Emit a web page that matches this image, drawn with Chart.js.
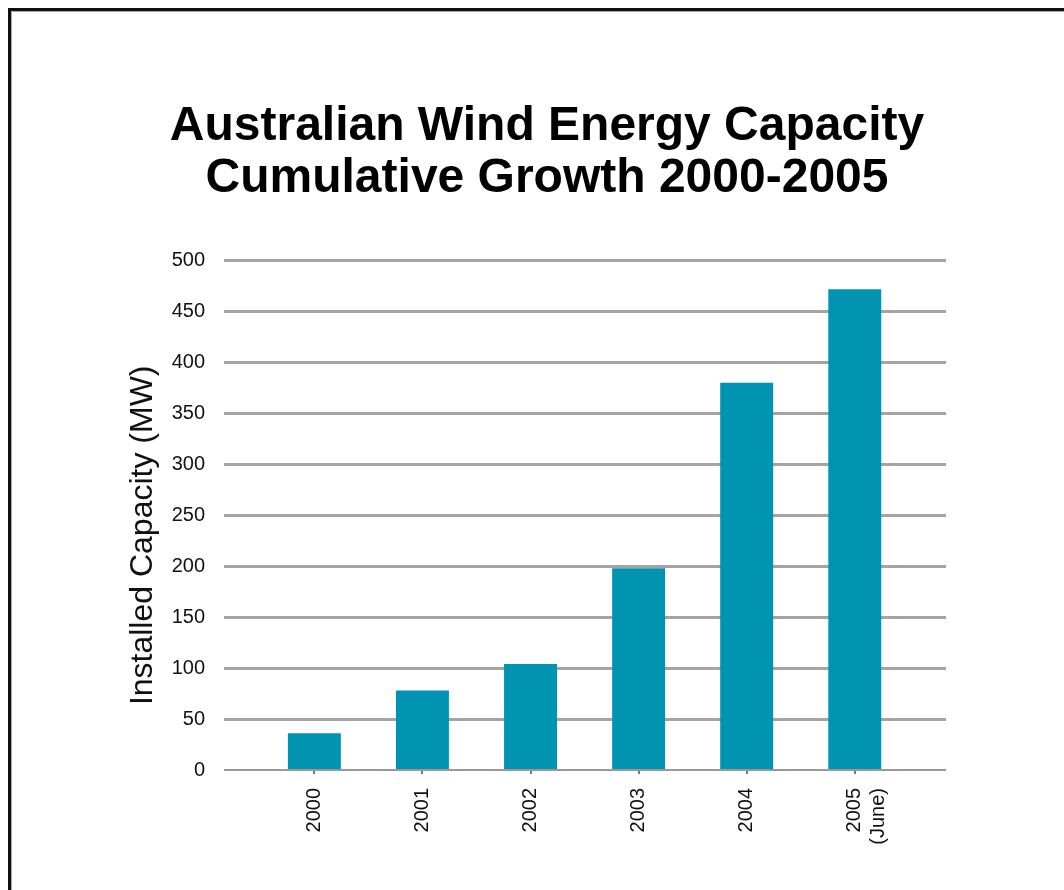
<!DOCTYPE html>
<html>
<head>
<meta charset="utf-8">
<script src="https://cdn.jsdelivr.net/npm/chart.js@4.4.0/dist/chart.umd.min.js"></script>
<style>
	body { margin: 0; background: #fff; }
	#frame {
		position: absolute; left: 8px; top: 8px; width: 1100px; height: 950px;
		border-left: 3px solid #111; border-top: 3px solid #111;
		box-shadow: inset 1px 1px 0 #aaa;
	}
	#myChart { position: absolute; left: 0; top: 0; }
</style>
</head>
<body>
<div id="frame"></div>
<canvas id="myChart" width="1064" height="890"></canvas>
<script>
// data
var years = ['2000', '2001', '2002', '2003', '2004', ['2005', '(June)']];
var capacity = [36, 78, 104, 198, 380, 472];
var yTicks = [0, 50, 100, 150, 200, 250, 300, 350, 400, 450, 500];

var titleLines = ['Australian Wind Energy Capacity', 'Cumulative Growth 2000-2005'];
var yTitle = 'Installed Capacity (MW)';

Chart.defaults.font.family = "'Liberation Sans', Arial, sans-serif";

// y axis title sits a bit lower than the middle in the original
var yTitlePlugin = {
	id: 'yTitle',
	afterDraw: function(chart){
		var ctx = chart.ctx;
		var area = chart.chartArea;
		ctx.save();
		ctx.translate(area.left - 72, (area.top + area.bottom) / 2 + 20);
		ctx.rotate(-Math.PI / 2);
		ctx.font = "32px 'Liberation Sans', Arial, sans-serif";
		ctx.fillStyle = '#111';
		ctx.textAlign = 'center';
		ctx.textBaseline = 'alphabetic';
		ctx.fillText(yTitle, 0, 0);
		ctx.restore();
	}
};

var points = capacity.map(function(v, i){
	return {x: i, y: v};
});

var ctx = document.getElementById('myChart').getContext('2d');
var chart = new Chart(ctx, {
	type: 'bar',
	data: {
		datasets: [{
			label: 'Installed Capacity (MW)',
			data: points,
			backgroundColor: '#0093b2',
			borderWidth: 0,
			barPercentage: 0.49,
			categoryPercentage: 1
		}]
	},
	plugins: [yTitlePlugin],
	options: {
		responsive: false,
		animation: false,
		layout: {
			padding: {left: 148, right: 118, top: 0, bottom: 0}
		},
		plugins: {
			legend: {display: false},
			tooltip: {enabled: false},
			title: {
				display: true,
				text: titleLines,
				color: '#000',
				font: {size: 48, weight: 'bold', lineHeight: 1.1},
				padding: {top: 100, bottom: 55}
			}
		},
		scales: {
			x: {
				type: 'linear',
				offset: false,
				min: -0.836,
				max: 5.844,
				afterBuildTicks: function(axis){
					axis.ticks = years.map(function(y, i){ return {value: i}; });
				},
				afterFit: function(axis){
					axis.height = 120;
				},
				grid: {
					offset: false,
					drawOnChartArea: false,
					drawTicks: true,
					tickLength: 4,
					color: '#777',
					lineWidth: 2
				},
				border: {display: false},
				ticks: {
					minRotation: 90,
					maxRotation: 90,
					padding: 14,
					color: '#111',
					font: {size: 20},
					callback: function(value){
						return years[value];
					}
				}
			},
			y: {
				min: 0,
				max: 500,
				afterBuildTicks: function(axis){
					axis.ticks = yTicks.map(function(v){ return {value: v}; });
				},
				afterFit: function(axis){
					axis.width = 76;
				},
				grid: {
					drawTicks: false,
					color: function(c){ return c.tick && c.tick.value === 0 ? '#999' : '#a4a4a4'; },
					lineWidth: function(c){ return c.tick && c.tick.value === 0 ? 2 : 3; }
				},
				border: {display: false},
				ticks: {
					padding: 19,
					color: '#111',
					font: {size: 20}
				}
			}
		}
	}
});
</script>
</body>
</html>
